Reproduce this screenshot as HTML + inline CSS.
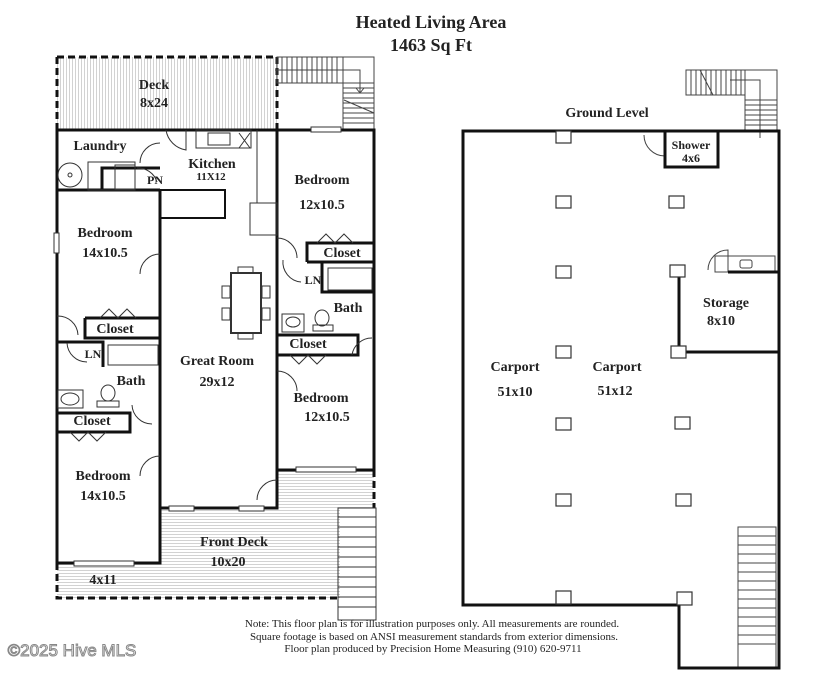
<!DOCTYPE html>
<html><head><meta charset="utf-8"><style>
html,body{margin:0;padding:0;background:#fff}
svg{display:block}
text{font-family:"Liberation Serif",serif;font-weight:bold;fill:#222;text-anchor:middle}
</style></head><body>
<svg width="825" height="680" viewBox="0 0 825 680" xmlns="http://www.w3.org/2000/svg">
<defs>
<pattern id="vs" width="3" height="10" patternUnits="userSpaceOnUse"><rect width="3" height="10" fill="#fff"/><rect width="1" height="10" fill="#d2d2d2"/></pattern>
<pattern id="hs" width="10" height="3" patternUnits="userSpaceOnUse"><rect width="10" height="3" fill="#fff"/><rect width="10" height="1" fill="#d2d2d2"/></pattern>
</defs>
<rect width="825" height="680" fill="#fff"/>
<text x="431" y="28" font-size="18" style="font-stretch:condensed">Heated Living Area</text>
<text x="431" y="51" font-size="18">1463 Sq Ft</text>

<rect x="57" y="57" width="220" height="73" fill="url(#vs)"/>
<path d="M57 57 H277 V130 M57 57 V130" fill="none" stroke="#111" stroke-width="3" stroke-dasharray="7,4"/>
<g stroke="#444" stroke-width="1" fill="none">
<rect x="277" y="57" width="97" height="26"/>
<path d="M282 57V83M287 57V83M292 57V83M297 57V83M302 57V83M307 57V83M312 57V83M317 57V83M322 57V83M327 57V83M332 57V83M337 57V83M343 57V83"/>
<rect x="343" y="83" width="31" height="47"/>
<path d="M343 88H374M343 93H374M343 98H374M343 103H374M343 108H374M343 113H374M343 118H374M343 123H374"/>
<path d="M275 70H360V92M356 88L360 93L364 88M344 100L374 113"/>
</g>

<rect x="160" y="508" width="180" height="90" fill="url(#hs)"/>
<rect x="57" y="563" width="104" height="35" fill="url(#hs)"/>
<rect x="277" y="470" width="97" height="38" fill="url(#hs)"/>
<path d="M57 563V598H338" fill="none" stroke="#111" stroke-width="3" stroke-dasharray="7,4"/>
<path d="M374 470V508" fill="none" stroke="#111" stroke-width="3" stroke-dasharray="7,4"/>
<g stroke="#333" stroke-width="1" fill="none">
<rect x="338" y="508" width="38" height="112"/>
<path d="M338 517H376M338 527H376M338 537H376M338 547H376M338 557H376M338 567H376M338 577H376M338 587H376M338 597H376M338 607H376"/>
</g>

<g fill="none" stroke="#111" stroke-width="3">
<path d="M57 130H374V470H277V508H160V563H57Z"/>
<path d="M160 190V508M277 130V470"/>
<path d="M57 190H160M102 190V168H160"/>
<path d="M85 318H160M85 318V338H160M57 342H103V367"/>
<path d="M57 413H130V432H57M130 413V432"/>
<path d="M307 262V243H374M307 262H374M322 262V292H374"/>
<path d="M277 335H358V355H277M358 335V355"/>
<path d="M277 355V470"/>
</g>
<g fill="none" stroke="#333" stroke-width="1">
<circle cx="70" cy="175" r="12"/><circle cx="70" cy="175" r="2"/>
<rect x="88" y="162" width="47" height="28"/><rect x="115" y="165" width="20" height="24"/>
<rect x="196" y="130" width="55" height="18"/><rect x="208" y="133" width="22" height="12"/>
<path d="M239 133L250 148M250 133L239 148"/>
<path d="M257 130V203M250 203H277V235H250Z"/>
<rect x="160" y="190" width="65" height="28" stroke="#111" stroke-width="2"/>
<rect x="231" y="273" width="30" height="60" stroke-width="2"/>
<rect x="238" y="267" width="15" height="6"/><rect x="238" y="333" width="15" height="6"/>
<rect x="222" y="286" width="8" height="12"/><rect x="222" y="308" width="8" height="12"/>
<rect x="262" y="286" width="8" height="12"/><rect x="262" y="308" width="8" height="12"/>
<rect x="328" y="268" width="44" height="22"/><rect x="108" y="345" width="50" height="20"/>
<rect x="282" y="314" width="22" height="18"/><ellipse cx="293" cy="322" rx="7" ry="5"/>
<ellipse cx="322" cy="318" rx="7" ry="8"/><rect x="313" y="325" width="20" height="6"/>
<rect x="58" y="390" width="25" height="18"/><ellipse cx="70" cy="399" rx="9" ry="6"/>
<ellipse cx="108" cy="393" rx="7" ry="8"/><rect x="97" y="401" width="22" height="6"/>
<path d="M166 130A24 24 0 0 0 186 150V130"/>
<path d="M160 143A20 20 0 0 0 140 163"/>
<path d="M137 168A20 20 0 0 1 157 182"/>
<path d="M160 254A20 20 0 0 0 140 274"/>
<path d="M277 238A20 20 0 0 1 297 258"/>
<path d="M283 260A20 20 0 0 0 301 282"/>
<path d="M57 316A20 20 0 0 1 78 335"/>
<path d="M67 343A20 20 0 0 0 87 362"/>
<path d="M132 405A20 20 0 0 0 152 424"/>
<path d="M160 456A20 20 0 0 0 140 476"/>
<path d="M277 371A20 20 0 0 1 297 391"/>
<path d="M372 338A20 20 0 0 0 352 355"/>
<path d="M277 480A20 20 0 0 0 257 500"/>
<path d="M317 243L326 234L335 243L344 234L353 243"/>
<path d="M100 318L109 309L118 318L127 309L136 318"/>
<path d="M290 355L299 364L308 355L317 364L326 355"/>
<path d="M70 432L79 441L88 432L97 441L106 432"/>
<rect x="311" y="127" width="30" height="5" fill="#fff"/>
<rect x="54" y="233" width="5" height="20" fill="#fff"/>
<rect x="296" y="467" width="60" height="5" fill="#fff"/>
<rect x="74" y="561" width="60" height="5" fill="#fff"/>
<rect x="169" y="506" width="25" height="5" fill="#fff"/>
<rect x="239" y="506" width="25" height="5" fill="#fff"/>
</g>

<g font-size="14">
<text x="154" y="89">Deck</text><text x="154" y="107">8x24</text>
<text x="100" y="150">Laundry</text>
<text x="212" y="168">Kitchen</text><text x="211" y="180" font-size="11">11X12</text>
<text x="155" y="184" font-size="12">PN</text>
<text x="322" y="184">Bedroom</text><text x="322" y="209">12x10.5</text>
<text x="105" y="237">Bedroom</text><text x="105" y="257">14x10.5</text>
<text x="342" y="257">Closet</text><text x="313" y="284" font-size="12">LN</text>
<text x="348" y="312">Bath</text><text x="115" y="333">Closet</text>
<text x="308" y="348">Closet</text><text x="93" y="358" font-size="12">LN</text>
<text x="217" y="365">Great Room</text><text x="217" y="386">29x12</text>
<text x="131" y="385">Bath</text><text x="92" y="425">Closet</text>
<text x="321" y="402">Bedroom</text><text x="327" y="421">12x10.5</text>
<text x="103" y="480">Bedroom</text><text x="103" y="500">14x10.5</text>
<text x="234" y="546">Front Deck</text><text x="228" y="566">10x20</text>
<text x="103" y="584">4x11</text>
</g>

<g stroke="#444" stroke-width="1" fill="none">
<rect x="686" y="70" width="59" height="25"/>
<path d="M691 70V95M696 70V95M701 70V95M706 70V95M711 70V95M716 70V95M721 70V95M726 70V95M731 70V95M736 70V95M741 70V95"/>
<rect x="745" y="70" width="32" height="61"/>
<path d="M745 100H777M745 105H777M745 110H777M745 115H777M745 120H777M745 125H777"/>
<path d="M730 80H760V138M700 70L713 95"/>
<rect x="738" y="527" width="38" height="141"/>
<path d="M738 536H776M738 545H776M738 554H776M738 563H776M738 572H776M738 581H776M738 590H776M738 599H776M738 608H776M738 617H776M738 626H776M738 635H776M738 644H776"/>
<rect x="715" y="256" width="60" height="16"/><rect x="740" y="260" width="12" height="8" rx="2"/>
<path d="M644 135A21 21 0 0 0 665 156"/>
<path d="M708 270A20 20 0 0 1 728 250V272"/>
</g>
<g fill="none" stroke="#111" stroke-width="3">
<path d="M463 131H779V668H679V605H463Z"/>
<path d="M665 131V167H718V131"/>
<path d="M679 270V352H779M728 272H779"/>
</g>
<g fill="#fff" stroke="#333" stroke-width="1.2">
<rect x="556" y="131" width="15" height="12"/><rect x="556" y="196" width="15" height="12"/>
<rect x="556" y="266" width="15" height="12"/><rect x="556" y="346" width="15" height="12"/>
<rect x="556" y="418" width="15" height="12"/><rect x="556" y="494" width="15" height="12"/>
<rect x="556" y="591" width="15" height="13"/>
<rect x="669" y="196" width="15" height="12"/><rect x="670" y="265" width="15" height="12"/>
<rect x="671" y="346" width="15" height="12"/><rect x="675" y="417" width="15" height="12"/>
<rect x="676" y="494" width="15" height="12"/><rect x="677" y="592" width="15" height="13"/>
</g>
<g font-size="14">
<text x="607" y="117">Ground Level</text>
<text x="691" y="149" font-size="12">Shower</text><text x="691" y="162" font-size="12">4x6</text>
<text x="726" y="307">Storage</text><text x="721" y="325">8x10</text>
<text x="515" y="371">Carport</text><text x="515" y="396">51x10</text>
<text x="617" y="371">Carport</text><text x="615" y="395">51x12</text>
</g>
<text x="432" y="627" font-size="11" style="font-weight:normal">Note: This floor plan is for illustration purposes only. All measurements are rounded.</text>
<text x="434" y="640" font-size="11" style="font-weight:normal">Square footage is based on ANSI measurement standards from exterior dimensions.</text>
<text x="433" y="652" font-size="11" style="font-weight:normal">Floor plan produced by Precision Home Measuring (910) 620-9711</text>
<text x="72" y="656" font-size="17" style="font-family:'Liberation Sans',sans-serif;font-weight:normal;fill:#fff;stroke:#888;stroke-width:1">©2025 Hive MLS</text>
</svg>
</body></html>
